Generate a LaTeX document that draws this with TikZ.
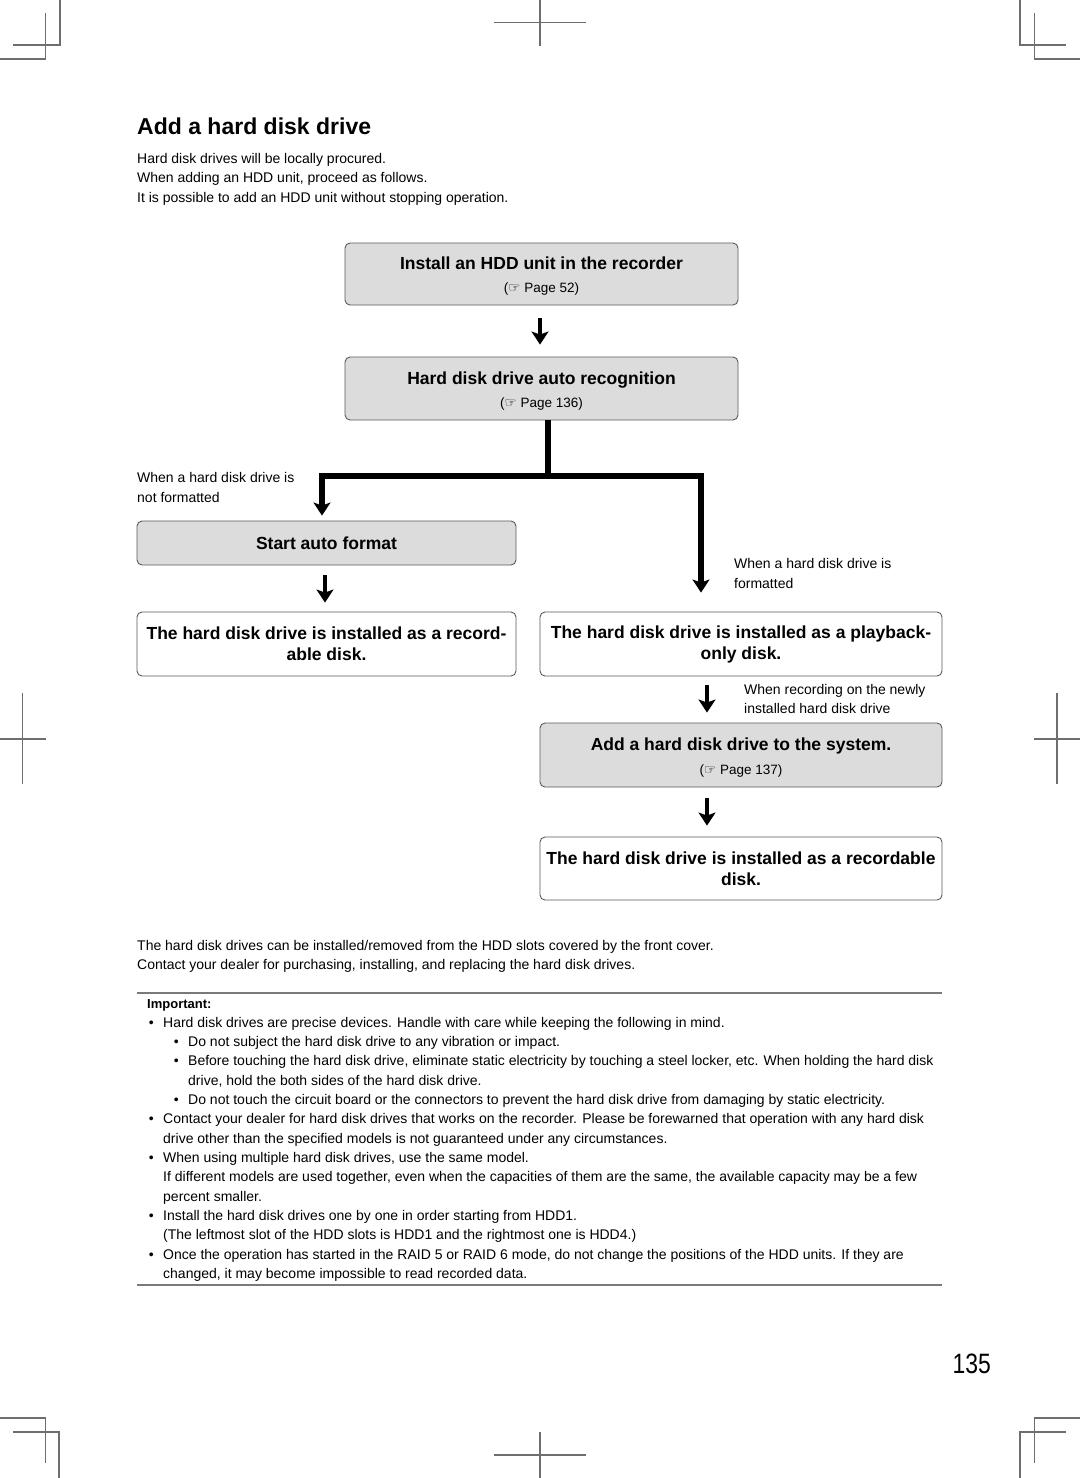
\documentclass[tikz,border=0pt]{standalone}
\usepackage{fontspec}
\setmainfont{Liberation Sans}
\newfontfamily\handfont{DejaVu Sans}
\newfontfamily\pagenumfont[FakeStretch=0.82]{Liberation Sans}
\usepackage{tikz}
\usetikzlibrary{calc,positioning,arrows.meta}
\definecolor{boxgray}{HTML}{DCDCDC}
\definecolor{framegray}{HTML}{5A5A5A}
\definecolor{markgray}{HTML}{6E6E6E}
\definecolor{rulegray}{HTML}{7A7A7A}
\newcommand{\bodysize}{\fontsize{14}{19.4}\selectfont}
\newcommand{\seepage}[1]{({\handfont\fontsize{13.5}{13.5}\selectfont ☞} Page #1)}
\newcommand{\itembullet}{\llap{\textbullet\hspace{9.5pt}}}
\tikzstyle{flowbox}=[
  draw=framegray, line width=0.9pt, rounded corners=5pt, inner sep=0pt
]
\tikzstyle{graybox}=[
  flowbox, fill=boxgray
]
\tikzstyle{whitebox}=[
  flowbox, fill=white
]
\tikzstyle{boxtitle}=[
  font=\bfseries\fontsize{17.5}{21}\selectfont, align=center
]
\tikzstyle{boxref}=[
  font=\fontsize{13.5}{16}\selectfont, inner sep=0pt, anchor=base
]
\tikzstyle{bodyline}=[
  font=\bodysize, inner sep=0pt, anchor=base west
]
\tikzstyle{flowarrow}=[
  line width=4.5pt, -{Stealth[length=13pt,width=17pt,inset=3pt]}
]
\tikzstyle{splitarrow}=[
  flowarrow, line width=6pt
]
\tikzstyle{cropmark}=[
  draw=markgray, line width=1.1pt
]
\tikzstyle{hrule}=[
  draw=rulegray, line width=1.8pt
]

\begin{document}
\begin{tikzpicture}[x=1pt,y=-1pt]
  \fill[white] (0,0) rectangle (1080,1478);
  \useasboundingbox (0,0) rectangle (1080,1478);
  % crop marks
  \draw[cropmark] (60,0) -- (60,45) -- (13,45);
  \draw[cropmark] (0,59) -- (45.5,59) -- (45.5,13);
  \draw[cropmark] (540,0) -- (540,45.5);
  \draw[cropmark] (494,22.7) -- (586,22.7);
  \draw[cropmark] (1020,0) -- (1020,45) -- (1066,45);
  \draw[cropmark] (1080,59) -- (1034.5,59) -- (1034.5,13);
  \draw[cropmark] (22.7,693) -- (22.7,784);
  \draw[cropmark] (0,739) -- (45.6,739);
  \draw[cropmark] (1057,693) -- (1057,784);
  \draw[cropmark] (1034,739) -- (1080,739);
  \draw[cropmark] (0,1418) -- (45.6,1418) -- (45.6,1463);
  \draw[cropmark] (13,1432) -- (59,1432) -- (59,1478);
  \draw[cropmark] (540,1432) -- (540,1478);
  \draw[cropmark] (494,1455) -- (586,1455);
  \draw[cropmark] (1080,1418) -- (1034.5,1418) -- (1034.5,1463);
  \draw[cropmark] (1066,1432) -- (1020,1432) -- (1020,1478);

  % heading and intro
  \node (title) [anchor=base west, inner sep=0pt, font=\bfseries\fontsize{23}{28}\selectfont] at (137,134) {Add a hard disk drive};
  \foreach \txt [count=\i] in {Hard disk drives will be locally procured., {When adding an HDD unit, proceed as follows.}, It is possible to add an HDD unit without stopping operation.}
    \node (intro\i) [bodyline] at (137,143.5+19.5*\i) {\txt};

  % flow boxes
  \node (install) [graybox, minimum width=393pt, minimum height=62pt] at (541.5,274) {};
  \node (installtitle) [boxtitle, inner sep=0pt, anchor=base] at ($(install.north)+(0,26.5)$) {Install an HDD unit in the recorder};
  \node (installref) [boxref] at ($(install.north)+(0,50)$) {\seepage{52}};

  \node (recog) [graybox, minimum width=393pt, minimum height=63pt] at (541.5,388.5) {};
  \node (recogtitle) [boxtitle, inner sep=0pt, anchor=base] at ($(recog.north)+(0,27.5)$) {Hard disk drive auto recognition};
  \node (recogref) [boxref] at ($(recog.north)+(0,51)$) {\seepage{136}};

  \node (format) [graybox, boxtitle, minimum width=379pt, minimum height=44pt] at (326.5,543) {Start auto format};
  \node (recleft) [whitebox, boxtitle, minimum width=379pt, minimum height=64pt] at (326.5,644) {The hard disk drive is installed as a record-\\able disk.};
  \node (playback) [whitebox, boxtitle, minimum width=402pt, minimum height=64pt] at (741,644) {The hard disk drive is installed as a playback-\\only disk.};

  \node (addsys) [graybox, minimum width=402pt, minimum height=64pt] at (741,755) {};
  \node (addsystitle) [boxtitle, inner sep=0pt, anchor=base] at ($(addsys.north)+(0,28)$) {Add a hard disk drive to the system.};
  \node (addsysref) [boxref] at ($(addsys.north)+(0,51.5)$) {\seepage{137}};

  \node (recright) [whitebox, boxtitle, minimum width=402pt, minimum height=63pt] at (741,868.5) {The hard disk drive is installed as a recordable\\disk.};

  % connectors
  \draw[flowarrow] ($(install.south)+(-1.5,13)$) -- ($(recog.north)+(-1.5,-12)$);
  \coordinate (fork) at ($(recog.south)+(6.5,56)$);
  \draw[splitarrow] ($(recog.south)+(6.5,0)$) -- (fork) -| ($(format.north)+(-4.5,-5)$);
  \draw[splitarrow] ($(recog.south)+(6.5,0)$) -- (fork) -| ($(playback.north)+(-40,-19)$);
  \draw[flowarrow] ($(format.south)+(-1.5,10)$) -- ($(recleft.north)+(-1.5,-9)$);
  \draw[flowarrow] ($(playback.south)+(-34,9)$) -- ($(addsys.north)+(-34,-10)$);
  \draw[flowarrow] ($(addsys.south)+(-34,11)$) -- ($(recright.north)+(-34,-11)$);

  % branch notes
  \node (leftnote1) [bodyline] at (137,482) {When a hard disk drive is};
  \node (leftnote2) [bodyline] at (137,502) {not formatted};
  \node (rightnote1) [bodyline] at (734,568) {When a hard disk drive is};
  \node (rightnote2) [bodyline] at (734,588) {formatted};
  \node (recnote1) [bodyline] at (744,694) {When recording on the newly};
  \node (recnote2) [bodyline] at (744,713) {installed hard disk drive};

  % text below the flow
  \node (slots1) [bodyline] at (137,950) {The hard disk drives can be installed/removed from the HDD slots covered by the front cover.};
  \node (slots2) [bodyline] at (137,969) {Contact your dealer for purchasing, installing, and replacing the hard disk drives.};

  % important
  \draw[hrule] (137,993) -- (942,993);
  \node (important) [bodyline, font=\bfseries\fontsize{13}{19}\selectfont] at (147,1008) {Important:};
  \foreach \xx/\txt [count=\i] in {
    163/{\itembullet Hard disk drives are precise devices. Handle with care while keeping the following in mind.},
    188/{\itembullet Do not subject the hard disk drive to any vibration or impact.},
    188/{\itembullet Before touching the hard disk drive, eliminate static electricity by touching a steel locker, etc. When holding the hard disk},
    188/{drive, hold the both sides of the hard disk drive.},
    188/{\itembullet Do not touch the circuit board or the connectors to prevent the hard disk drive from damaging by static electricity.},
    163/{\itembullet Contact your dealer for hard disk drives that works on the recorder. Please be forewarned that operation with any hard disk},
    163/{drive other than the specified models is not guaranteed under any circumstances.},
    163/{\itembullet When using multiple hard disk drives, use the same model.},
    163/{If different models are used together, even when the capacities of them are the same, the available capacity may be a few},
    163/{percent smaller.},
    163/{\itembullet Install the hard disk drives one by one in order starting from HDD1.},
    163/{(The leftmost slot of the HDD slots is HDD1 and the rightmost one is HDD4.)},
    163/{\itembullet Once the operation has started in the RAID 5 or RAID 6 mode, do not change the positions of the HDD units. If they are},
    163/{changed, it may become impossible to read recorded data.}}
    \node (imp\i) [bodyline] at (\xx,1007.64+19.36*\i) {\txt};
  \draw[hrule] (137,1285) -- (942,1285);

  \node (pagenum) [inner sep=0pt, anchor=base east, font=\pagenumfont\fontsize{28}{30}\selectfont] at (991,1373) {135};
\end{tikzpicture}
\end{document}
